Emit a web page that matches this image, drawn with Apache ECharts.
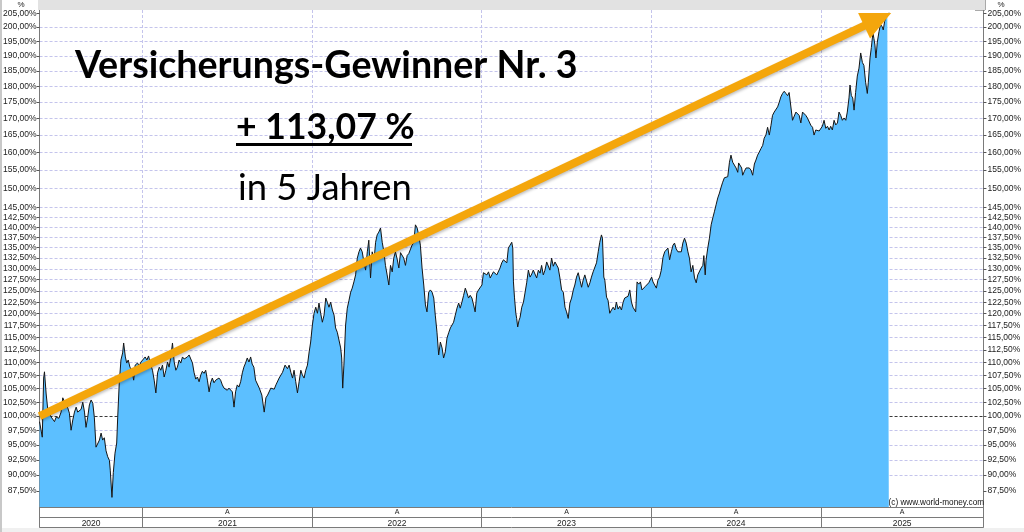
<!DOCTYPE html>
<html><head><meta charset="utf-8">
<script src="https://cdn.jsdelivr.net/npm/echarts@6/dist/echarts.min.js"></script>
<style>html,body{margin:0;padding:0;background:#fff}#c{width:1024px;height:532px}</style>
</head><body><div id="c"></div>
<script>
// time as decimal year
const dates = [
2020.392,2020.398,2020.408,2020.416,2020.421,2020.431,2020.441,2020.461,2020.480,2020.490,2020.506,2020.519,2020.529,2020.539,2020.559,2020.568,2020.578,2020.588,2020.598,2020.608,
2020.617,2020.627,2020.637,2020.647,2020.657,2020.666,2020.676,2020.686,2020.696,2020.706,2020.715,2020.725,2020.735,2020.745,2020.755,2020.764,2020.774,2020.784,2020.794,2020.804,
2020.809,2020.819,2020.827,2020.837,2020.847,2020.853,2020.862,2020.872,2020.882,2020.888,2020.898,2020.906,2020.915,2020.925,2020.937,2020.947,2020.956,2020.970,2020.980,2020.990,
2021.000,2021.015,2021.025,2021.035,2021.045,2021.058,2021.068,2021.078,2021.088,2021.098,2021.107,2021.117,2021.127,2021.137,2021.147,2021.156,2021.166,2021.176,2021.186,2021.196,
2021.205,2021.215,2021.225,2021.235,2021.245,2021.254,2021.264,2021.274,2021.284,2021.294,2021.303,2021.313,2021.323,2021.333,2021.343,2021.352,2021.362,2021.372,2021.382,2021.392,
2021.401,2021.411,2021.421,2021.431,2021.441,2021.450,2021.460,2021.470,2021.480,2021.490,2021.499,2021.509,2021.519,2021.529,2021.539,2021.548,2021.558,2021.568,2021.578,2021.588,
2021.597,2021.607,2021.617,2021.627,2021.637,2021.646,2021.656,2021.666,
2021.688,2021.703,2021.717,2021.727,2021.737,2021.746,2021.756,2021.776,2021.786,2021.805,2021.825,2021.840,2021.854,2021.864,2021.874,2021.884,2021.893,2021.903,2021.913,2021.923,
2021.933,2021.942,2021.952,2021.962,2021.972,2021.982,2021.991,2022.001,2022.011,2022.021,2022.031,2022.040,2022.050,2022.060,2022.070,2022.080,2022.089,2022.099,2022.109,2022.119,
2022.129,2022.138,2022.148,2022.158,2022.168,2022.174,2022.180,2022.187,2022.197,2022.207,2022.217,2022.227,2022.236,2022.246,2022.256,2022.266,2022.276,2022.285,2022.295,2022.305,
2022.315,2022.325,2022.334,2022.344,2022.354,2022.364,2022.374,2022.383,2022.393,2022.403,2022.413,2022.423,2022.432,2022.442,2022.452,2022.462,2022.472,2022.481,2022.491,2022.501,
2022.511,2022.521,2022.530,2022.540,2022.550,2022.560,2022.570,2022.579,2022.589,2022.599,2022.609,2022.619,2022.628,2022.638,2022.648,2022.658,2022.668,2022.677,2022.687,2022.697,
2022.707,2022.717,2022.726,2022.736,2022.746,2022.756,2022.766,2022.775,2022.785,2022.795,2022.805,2022.815,2022.824,2022.834,2022.844,2022.854,2022.864,2022.873,2022.883,2022.893,
2022.903,2022.913,2022.922,2022.932,
2022.942,2022.952,2022.961,2022.971,2022.981,2022.991,2023.001,2023.010,2023.020,2023.030,2023.040,2023.050,2023.059,2023.069,2023.079,2023.089,2023.099,2023.108,2023.118,2023.128,
2023.138,2023.148,2023.157,2023.167,2023.177,2023.183,2023.187,2023.193,2023.201,2023.206,2023.212,2023.220,2023.226,2023.236,2023.246,2023.255,2023.265,2023.275,2023.285,2023.295,
2023.304,2023.314,2023.324,2023.334,2023.344,2023.353,2023.363,2023.373,2023.383,2023.393,2023.402,2023.412,2023.422,2023.432,2023.442,2023.451,2023.461,2023.471,2023.481,2023.491,
2023.500,2023.510,2023.520,2023.530,2023.540,2023.549,2023.559,2023.569,2023.579,2023.589,2023.598,2023.608,2023.618,2023.628,2023.638,2023.647,2023.657,2023.667,2023.677,2023.687,
2023.696,2023.706,2023.712,2023.720,2023.726,2023.736,2023.745,2023.755,2023.765,2023.775,2023.785,2023.794,2023.804,2023.814,2023.824,2023.834,2023.843,2023.853,2023.863,2023.873,
2023.883,2023.892,2023.902,2023.908,2023.916,2023.926,2023.936,2023.945,2023.955,2023.965,2023.975,2023.985,2023.994,2024.002,2024.010,2024.020,2024.030,2024.039,2024.049,2024.059,
2024.069,2024.079,2024.088,2024.098,2024.108,2024.118,2024.128,2024.137,2024.147,2024.157,2024.167,2024.177,2024.186,2024.196,2024.206,
2024.216,2024.225,2024.235,2024.245,2024.255,2024.265,2024.274,2024.284,2024.294,2024.304,2024.310,2024.318,2024.323,2024.333,2024.343,2024.353,2024.363,2024.372,2024.382,2024.392,
2024.402,2024.412,2024.421,2024.431,2024.441,2024.451,2024.461,2024.470,2024.480,2024.490,2024.500,2024.510,2024.515,2024.525,2024.533,2024.539,2024.549,2024.559,2024.568,2024.578,
2024.588,2024.598,2024.608,2024.617,2024.627,2024.637,2024.647,2024.657,2024.666,2024.676,2024.686,2024.696,2024.706,2024.715,2024.725,2024.735,2024.745,2024.755,2024.764,2024.774,
2024.784,2024.794,2024.804,2024.813,2024.823,2024.833,2024.843,2024.853,2024.862,2024.872,2024.882,2024.892,2024.902,2024.911,2024.921,2024.931,2024.941,2024.951,2024.960,2024.970,
2024.980,2024.990,2025.000,2025.009,2025.019,2025.029,2025.039,2025.049,2025.058,2025.068,2025.078,2025.088,2025.098,2025.107,2025.117,2025.127,2025.137,2025.147,2025.156,2025.166,
2025.172,2025.180,2025.188,2025.196,2025.205,2025.215,2025.225,2025.235,2025.245,2025.254,2025.264,2025.274,2025.280,2025.290,2025.298,2025.307,2025.313,2025.319,2025.325,2025.333,
2025.343,2025.352,2025.362,2025.368,2025.376,2025.384,2025.392,2025.401
];
// performance in percent
const values = [
99.0,98.8,96.3,107.0,108.2,104.0,101.0,99.8,99.0,99.8,99.6,100.7,103.3,102.5,101.4,100.5,97.5,99.3,100.7,101.6,
100.7,100.5,101.2,102.5,100.7,98.0,99.8,102.0,102.9,102.3,99.8,94.6,94.9,95.8,97.0,95.8,96.2,94.0,93.0,92.4,
90.8,86.5,90.4,93.6,95.3,99.8,106.0,110.5,111.9,113.9,111.1,109.9,110.5,109.1,108.5,106.6,109.5,109.9,109.3,110.1,
109.9,111.1,110.5,111.3,109.9,108.5,106.6,104.2,108.0,109.1,108.5,109.5,107.2,108.5,110.1,109.1,111.1,113.9,110.1,108.5,
109.1,110.5,109.9,111.1,110.7,110.5,111.1,111.5,110.7,109.9,108.1,106.8,107.2,106.3,107.6,108.3,107.9,108.5,106.6,104.4,
106.1,107.0,106.1,106.6,106.3,107.0,106.6,105.7,105.1,105.3,104.7,105.1,105.3,104.4,101.6,104.4,105.7,105.3,106.3,108.0,
109.1,109.9,110.9,110.1,111.1,109.7,109.1,106.6,
105.1,103.8,100.7,103.3,103.8,103.6,105.1,104.9,105.7,107.0,108.1,109.5,108.8,109.5,108.1,107.0,108.5,106.3,104.2,106.3,
108.5,107.6,107.0,108.5,109.5,112.1,114.1,117.6,120.1,121.4,120.1,122.3,120.1,118.2,119.7,123.4,122.5,121.4,122.5,120.8,
119.7,117.0,116.1,114.5,112.9,110.9,105.1,109.5,117.6,121.2,122.9,124.7,125.6,127.0,128.6,132.5,134.0,134.9,134.0,131.6,
129.7,134.0,136.8,127.9,134.0,131.6,136.3,138.1,138.8,139.8,136.3,134.0,130.8,128.6,126.3,130.8,129.3,132.5,134.0,132.3,
130.2,133.8,134.0,132.5,130.8,133.1,133.6,134.0,135.6,136.3,140.6,139.8,138.1,135.6,130.2,126.3,121.9,120.4,124.7,125.2,
124.7,123.4,119.7,116.1,111.5,114.1,112.9,110.9,112.1,114.9,116.0,117.0,117.4,118.2,119.7,121.2,122.3,121.2,122.5,124.0,
125.6,124.5,123.4,124.0,
123.4,121.9,120.4,124.5,125.2,124.9,126.3,129.1,129.3,128.6,129.3,127.9,128.6,129.3,129.7,128.6,128.3,130.2,131.4,132.1,
132.5,131.4,134.9,135.6,136.3,134.9,127.0,123.6,120.1,119.0,117.2,118.6,119.2,121.4,122.5,124.5,126.8,129.7,128.1,128.8,
129.7,129.3,127.9,129.7,129.0,130.8,128.6,129.7,131.6,132.0,129.7,132.5,130.6,131.6,131.2,130.2,127.9,125.2,124.7,121.4,
120.4,119.0,122.3,123.4,125.2,126.3,128.1,129.1,127.4,125.8,127.4,128.6,127.2,125.8,126.8,128.1,129.3,129.7,131.4,134.0,
136.3,138.1,137.3,128.1,127.4,123.6,122.9,120.1,120.8,121.4,120.8,122.5,121.0,121.6,120.8,122.5,123.4,123.1,123.8,125.2,
122.5,121.4,121.0,120.4,127.0,126.5,127.0,125.2,125.6,126.0,126.3,126.8,127.0,128.1,127.0,126.3,125.6,127.4,128.1,129.7,
132.7,134.0,134.4,134.9,132.1,134.0,135.6,136.1,134.7,134.0,134.4,134.0,136.1,137.3,136.1,
134.0,132.5,129.3,130.8,127.9,126.8,128.6,129.0,130.2,130.8,133.1,128.6,132.0,134.9,137.3,140.6,142.4,143.9,145.7,147.5,
148.8,150.4,151.7,152.9,152.9,153.2,157.2,159.2,157.2,156.4,155.6,154.4,157.0,157.2,155.6,153.6,154.7,155.6,156.0,155.6,
155.0,153.6,156.7,157.8,159.2,160.1,161.1,162.0,164.1,165.0,167.3,165.0,167.9,170.9,171.9,171.6,173.5,175.0,176.6,177.7,
178.4,177.7,177.0,178.0,178.1,169.4,169.7,171.9,172.5,170.9,168.6,171.9,171.6,170.9,170.1,169.7,167.9,167.3,165.0,166.5,
167.0,166.2,166.5,167.6,169.4,167.0,167.6,166.5,167.6,166.5,169.4,168.0,168.6,171.9,170.9,169.4,170.1,169.4,171.9,176.3,
180.4,177.0,176.3,172.5,178.0,183.3,185.9,191.0,187.8,186.8,181.3,177.7,181.3,189.3,192.9,198.0,196.0,193.7,189.3,194.7,
198.4,201.0,200.1,199.0,202.0,203.8,204.6,205.2
];
const yTicks = [87.5,90,92.5,95,97.5,100,102.5,105,107.5,110,112.5,115,117.5,120,122.5,125,127.5,130,132.5,135,137.5,140,142.5,145,
  150,155,160,165,170,175,180,185,190,195,200,205];
const yearStarts = [2021,2022,2023,2024,2025];
const yearNames = ['2020','2021','2022','2023','2024','2025'];
const xMin = 2020.392, xMax = 2025.959;
const yMin = 85.03, yMax = 206.2;
const arrowFrom = [2020.392, 100.0];
const arrowTo = [2025.335, 202.8];
const titleText = 'Versicherungs-Gewinner Nr. 3';
const gainText = '+ 113,07 %';
const periodText = 'in 5 Jahren';

const L = Math.log;
const bounds = [xMin].concat(yearStarts, [xMax]);
const centers = [];
for (let i = 0; i < bounds.length - 1; i++) centers.push((bounds[i] + bounds[i+1]) / 2);
const fmt = v => Math.exp(v).toFixed(2).replace('.', ',') + '%';
const tickLn = yTicks.map(L);
// split line colours are consumed one step ahead of the tick list, so the dark entry sits one slot before 100
const gridColors = yTicks.map((v, i) => yTicks[(i + 1) % yTicks.length] === 100 ? '#3a3a3a' : '#c4c4ec');
const labelFont = {fontFamily: 'Liberation Sans', fontSize: 8.5, color: '#222'};

const chart = echarts.init(document.getElementById('c'), null, {renderer: 'canvas'});
chart.setOption({
  animation: false,
  backgroundColor: '#ffffff',
  grid: {left: 38, right: 39, top: 10, bottom: 25, containLabel: false},
  xAxis: [
    {type: 'value', min: xMin, max: xMax, position: 'bottom',
     axisLine: {show: true, onZero: false, lineStyle: {color: '#7a7a7a', width: 1}},
     axisTick: {show: true, customValues: bounds, length: 20, inside: false, lineStyle: {color: '#7a7a7a'}},
     axisLabel: Object.assign({customValues: centers.slice(1), formatter: () => 'A', margin: 2}, labelFont, {fontSize: 7}),
     splitLine: {show: true, showMinLine: false, showMaxLine: false, lineStyle: {color: '#c4c4ec', type: [3, 2], width: 1}}},
    {type: 'value', min: xMin, max: xMax, position: 'bottom', offset: 10,
     axisLine: {show: true, onZero: false, lineStyle: {color: '#7a7a7a', width: 1}},
     axisTick: {show: false},
     axisLabel: Object.assign({customValues: centers, margin: 2,
       formatter: v => { const i = centers.findIndex(c => Math.abs(c - v) < 1e-6); return i >= 0 ? yearNames[i] : ''; }}, labelFont),
     splitLine: {show: false}},
    {type: 'value', min: xMin, max: xMax, position: 'bottom', offset: 20,
     axisLine: {show: true, onZero: false, lineStyle: {color: '#7a7a7a', width: 1}},
     axisTick: {show: false}, axisLabel: {show: false}, splitLine: {show: false}}
  ],
  yAxis: [
    {type: 'value', position: 'left', min: L(yMin), max: L(yMax),
     axisLine: {show: true, onZero: false, lineStyle: {color: '#7a7a7a'}},
     axisTick: {show: true, customValues: tickLn, length: 3, lineStyle: {color: '#555'}},
     axisLabel: Object.assign({customValues: tickLn, formatter: fmt, margin: 3}, labelFont),
     splitLine: {show: true, showMinLine: false, showMaxLine: false, lineStyle: {color: gridColors, type: [3, 2], width: 1}}},
    {type: 'value', position: 'right', min: L(yMin), max: L(yMax),
     axisLine: {show: true, onZero: false, lineStyle: {color: '#7a7a7a'}},
     axisTick: {show: true, customValues: tickLn, length: 3, lineStyle: {color: '#555'}},
     axisLabel: Object.assign({customValues: tickLn, formatter: fmt, margin: 4}, labelFont),
     splitLine: {show: false}}
  ],
  series: [{
    type: 'line', xAxisIndex: 0, yAxisIndex: 0,
    data: dates.map((d, i) => [d, L(values[i])]),
    symbol: 'none', showSymbol: false,
    lineStyle: {color: '#151515', width: 1},
    areaStyle: {color: '#5cbfff', opacity: 1, origin: 'start'},
    markLine: {
      silent: true, animation: false,
      symbol: ['none', 'triangle'], symbolSize: [28, 30],
      label: {show: false},
      lineStyle: {color: '#f4a60c', width: 8, type: 'solid', opacity: 1, shadowColor: 'rgba(0,0,0,0.25)', shadowBlur: 3, shadowOffsetY: 2},
      data: [[{coord: [arrowFrom[0], L(arrowFrom[1])]}, {coord: [arrowTo[0], L(arrowTo[1])]}]]
    }
  }],
  graphic: [
    {type: 'rect', shape: {x: 38, y: 0, width: 947, height: 10}, style: {fill: '#e2e2e2'}, z: 100},
    {type: 'group', z: 101, children: [
      {type: 'rect', shape: {x: 975, y: 0, width: 10, height: 10}, style: {fill: '#e2e2e2', stroke: '#555', lineWidth: 1}},
      {type: 'line', shape: {x1: 975, y1: 0, x2: 985, y2: 10}, style: {stroke: '#555', lineWidth: 1}},
      {type: 'line', shape: {x1: 985, y1: 0, x2: 975, y2: 10}, style: {stroke: '#555', lineWidth: 1}}
    ]},
    {type: 'rect', shape: {x: 0, y: 528, width: 1024, height: 4}, style: {fill: '#f0f0f0'}, z: 100},
    {type: 'rect', shape: {x: 0, y: 0, width: 2, height: 532}, style: {fill: '#c8c8c8'}, z: 100},
    {type: 'text', x: 21, y: 5, z: 100, style: {text: '%', font: '8px "Liberation Sans"', fill: '#222', align: 'center', verticalAlign: 'middle'}},
    {type: 'text', x: 1001, y: 5, z: 100, style: {text: '%', font: '8px "Liberation Sans"', fill: '#222', align: 'center', verticalAlign: 'middle'}},
    {type: 'text', x: 75, y: 66, z: 100, style: {text: titleText, font: 'bold 37.6px Lato', fill: '#000', align: 'left', verticalAlign: 'middle'}},
    {type: 'text', x: 236, y: 128, z: 100, style: {text: gainText, font: 'bold 35.6px Lato', fill: '#000', align: 'left', verticalAlign: 'middle'}},
    {type: 'rect', shape: {x: 236, y: 143, width: 176, height: 3}, style: {fill: '#000'}, z: 100},
    {type: 'text', x: 238, y: 188, z: 100, style: {text: periodText, font: '36.4px Lato', fill: '#000', align: 'left', verticalAlign: 'middle'}},
    {type: 'text', x: 984, y: 503, z: 100, style: {text: '(c) www.world-money.com', font: '8.2px "Liberation Sans"', fill: '#111', align: 'right', verticalAlign: 'middle'}}
  ]
});
</script></body></html>
